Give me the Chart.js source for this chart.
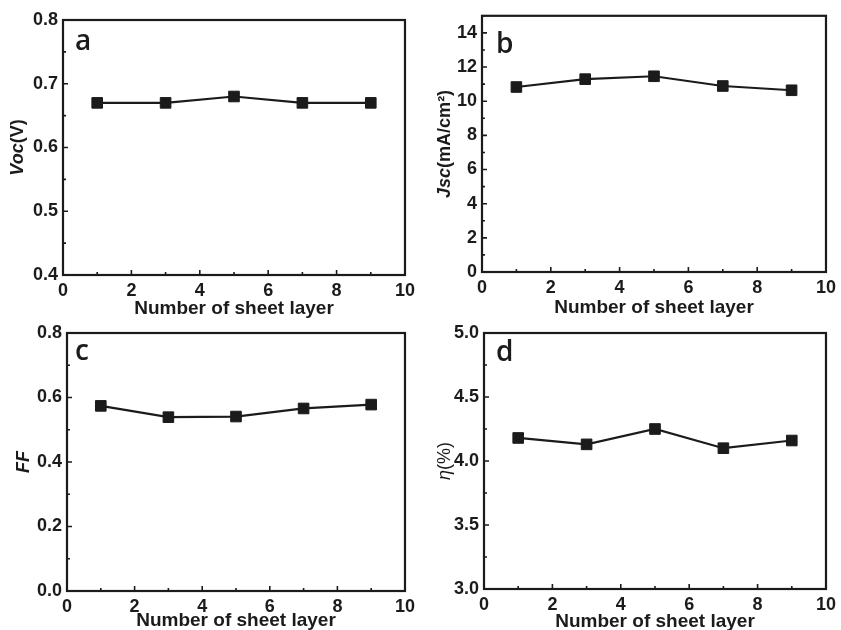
<!DOCTYPE html>
<html>
<head>
<meta charset="utf-8">
<script src="https://cdn.jsdelivr.net/npm/chart.js@4.4.1/dist/chart.umd.min.js"></script>
<style>
body { margin: 0; background: #fff; }
#wrap { position: relative; width: 841px; height: 630px; overflow: hidden; }
canvas { position: absolute; }
</style>
</head>
<body>
<div id="wrap">
  <canvas id="chartA"></canvas>
  <canvas id="chartB"></canvas>
  <canvas id="chartC"></canvas>
  <canvas id="chartD"></canvas>
</div>
<script>
// data
var layers = [1, 3, 5, 7, 9];
var vocValues = [0.67, 0.67, 0.68, 0.67, 0.67];
var jscValues = [10.83, 11.29, 11.46, 10.89, 10.64];
var ffValues = [0.574, 0.539, 0.541, 0.566, 0.578];
var etaValues = [4.18, 4.13, 4.25, 4.10, 4.16];

var xTicks = [0, 2, 4, 6, 8, 10];
var vocTicks = [0.4, 0.5, 0.6, 0.7, 0.8];
var jscTicks = [0, 2, 4, 6, 8, 10, 12, 14];
var ffTicks = [0.0, 0.2, 0.4, 0.6, 0.8];
var etaTicks = [3.0, 3.5, 4.0, 4.5, 5.0];

var xTitle = 'Number of sheet layer';
var fontFamily = '"Liberation Sans", Arial, sans-serif';
var ink = '#1b1b1b';

// canvas = [left, top, width, height] on page, area = [left, top, right, bottom] inside canvas
var panels = [{
    id: 'chartA', letter: 'a', values: vocValues, yTicks: vocTicks, yMin: 0.4, yMax: 0.8, yMinor: 0.05, digits: 1,
    yTitle: [['Voc', 'italic bold'], ['(V)', 'bold']],
    canvas: [0, 0, 420, 322], area: [63, 20, 407, 275], titleY: 309, yTitleX: 18, letterPos: [12, 30]
}, {
    id: 'chartB', letter: 'b', values: jscValues, yTicks: jscTicks, yMin: 0, yMax: 15, yMinor: 1, digits: 0,
    yTitle: [['Jsc', 'italic bold'], ['(mA/cm\u00b2)', 'bold']],
    canvas: [420, 0, 421, 322], area: [62, 13, 411, 272], titleY: 308, yTitleX: 25, letterPos: [14, 37]
}, {
    id: 'chartC', letter: 'c', values: ffValues, yTicks: ffTicks, yMin: 0, yMax: 0.8, yMinor: 0.1, digits: 1,
    yTitle: [['FF', 'italic bold']],
    canvas: [0, 312, 420, 318], area: [67, 21, 414, 279], titleY: 621, yTitleX: 24, letterPos: [8, 27]
}, {
    id: 'chartD', letter: 'd', values: etaValues, yTicks: etaTicks, yMin: 3, yMax: 5, yMinor: 0.25, digits: 1,
    yTitle: [['\u03b7', 'italic'], ['(%)', 'normal']],
    canvas: [420, 312, 421, 318], area: [64, 21, 413, 277], titleY: 622, yTitleX: 25, letterPos: [12, 28]
}];

var framePlugin = {
    id: 'frame',
    afterDraw: function(chart) {
        var p = chart.options.plugins.frame.panel;
        var ctx = chart.ctx;
        var area = chart.chartArea;
        var xs = chart.scales.x, ys = chart.scales.y;
        var v, px, major;

        ctx.save();
        ctx.strokeStyle = ink;
        ctx.lineWidth = 1.6;
        ctx.beginPath();
        // inward ticks on bottom axis, minor every 1
        for (v = 0; v <= 10; v++) {
            px = xs.getPixelForValue(v);
            major = v % 2 === 0;
            ctx.moveTo(px, area.bottom);
            ctx.lineTo(px, area.bottom - (major ? 5 : 3));
        }
        // inward ticks on left axis
        var n = Math.round((p.yMax - p.yMin) / p.yMinor);
        for (var i = 0; i <= n; i++) {
            v = p.yMin + i * p.yMinor;
            px = ys.getPixelForValue(v);
            major = p.yTicks.some(function(t) { return Math.abs(t - v) < 1e-6; });
            ctx.moveTo(area.left, px);
            ctx.lineTo(area.left + (major ? 5 : 3), px);
        }
        ctx.stroke();

        ctx.lineWidth = 2.2;
        ctx.strokeRect(area.left, area.top, area.right - area.left, area.bottom - area.top);

        // panel letter
        ctx.fillStyle = ink;
        ctx.font = '600 28px "Open Sans", sans-serif';
        ctx.textAlign = 'left';
        ctx.textBaseline = 'alphabetic';
        ctx.fillText(p.letter, area.left + p.letterPos[0], area.top + p.letterPos[1]);

        // y title with mixed styles
        var total = 0;
        p.yTitle.forEach(function(seg) {
            ctx.font = seg[1] + ' 18px ' + fontFamily;
            total += ctx.measureText(seg[0]).width;
        });
        ctx.translate(p.yTitleX, (area.top + area.bottom) / 2);
        ctx.rotate(-Math.PI / 2);
        ctx.textBaseline = 'middle';
        var x = -total / 2;
        p.yTitle.forEach(function(seg) {
            ctx.font = seg[1] + ' 18px ' + fontFamily;
            ctx.fillText(seg[0], x, 0);
            x += ctx.measureText(seg[0]).width;
        });
        ctx.restore();
    }
};

function makeChart(p) {
    var el = document.getElementById(p.id);
    var w = p.canvas[2], h = p.canvas[3];
    el.style.left = p.canvas[0] + 'px';
    el.style.top = p.canvas[1] + 'px';
    el.width = w;
    el.height = h;

    var titleFont = { family: fontFamily, size: 19, weight: 'bold', lineHeight: 1.2 };
    var titlePad = (p.canvas[1] + h - p.titleY) - 19 * 1.2 / 2;
    var points = layers.map(function(x, i) { return { x: x, y: p.values[i] }; });

    return new Chart(el, {
        type: 'line',
        data: {
            datasets: [{
                data: points,
                borderColor: ink,
                borderWidth: 2.2,
                backgroundColor: ink,
                pointStyle: 'rect',
                pointRadius: 7.5,
                pointBorderWidth: 1,
                pointBorderColor: ink,
                pointBackgroundColor: ink,
                tension: 0
            }]
        },
        options: {
            responsive: false,
            animation: false,
            events: [],
            layout: {
                padding: { left: 0, top: p.area[1], right: w - p.area[2], bottom: 0 }
            },
            plugins: {
                legend: { display: false },
                tooltip: { enabled: false },
                frame: { panel: p }
            },
            scales: {
                x: {
                    type: 'linear',
                    min: 0,
                    max: 10,
                    grid: { display: false, drawTicks: false },
                    border: { display: false },
                    afterBuildTicks: function(axis) {
                        axis.ticks = xTicks.map(function(v) { return { value: v }; });
                    },
                    afterFit: function(axis) { axis.height = h - p.area[3]; },
                    ticks: {
                        padding: 5,
                        color: ink,
                        maxRotation: 0,
                        font: { family: fontFamily, size: 18, weight: 'bold' }
                    },
                    title: {
                        display: true,
                        text: xTitle,
                        color: ink,
                        font: titleFont,
                        padding: { top: 0, bottom: titlePad }
                    }
                },
                y: {
                    type: 'linear',
                    min: p.yMin,
                    max: p.yMax,
                    grid: { display: false, drawTicks: false },
                    border: { display: false },
                    afterBuildTicks: function(axis) {
                        axis.ticks = p.yTicks.map(function(v) { return { value: v }; });
                    },
                    afterFit: function(axis) { axis.width = p.area[0]; },
                    ticks: {
                        padding: 5,
                        color: ink,
                        font: { family: fontFamily, size: 18, weight: 'bold' },
                        callback: function(value) { return Number(value).toFixed(p.digits); }
                    }
                }
            }
        },
        plugins: [framePlugin]
    });
}

panels.forEach(makeChart);
</script>
</body>
</html>
